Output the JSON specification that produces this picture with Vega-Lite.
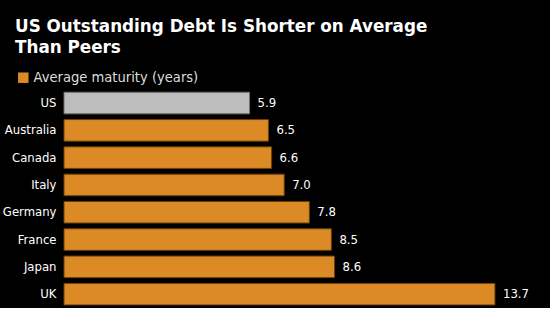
{
  "$schema": "https://vega.github.io/schema/vega-lite/v6.json",
  "width": 486,
  "height": 218.4,
  "autosize": {"type": "none"},
  "padding": {"left": 64, "top": 89.4, "right": 0, "bottom": 0},
  "background": "#000000",
  "title": {
    "text": ["US Outstanding Debt Is Shorter on Average", "Than Peers"],
    "anchor": "start",
    "frame": "group",
    "dx": -49,
    "font": "DejaVu Sans",
    "fontSize": 16.8,
    "fontWeight": "bold",
    "color": "#ffffff",
    "lineHeight": 21,
    "offset": 14
  },
  "data": {
    "values": [
      {"country": "US", "value": 5.9, "series": "Average maturity (years)"},
      {"country": "Australia", "value": 6.5, "series": "Average maturity (years)"},
      {"country": "Canada", "value": 6.6, "series": "Average maturity (years)"},
      {"country": "Italy", "value": 7.0, "series": "Average maturity (years)"},
      {"country": "Germany", "value": 7.8, "series": "Average maturity (years)"},
      {"country": "France", "value": 8.5, "series": "Average maturity (years)"},
      {"country": "Japan", "value": 8.6, "series": "Average maturity (years)"},
      {"country": "UK", "value": 13.7, "series": "Average maturity (years)"}
    ]
  },
  "encoding": {
    "y": {
      "field": "country",
      "type": "nominal",
      "sort": null,
      "scale": {"paddingInner": 0.21, "paddingOuter": 0.105},
      "axis": {
        "title": null,
        "domain": false,
        "ticks": false,
        "labelPadding": 8,
        "labelFont": "DejaVu Sans Condensed",
        "labelFontSize": 13,
        "labelColor": "#ffffff"
      }
    },
    "x": {
      "field": "value",
      "type": "quantitative",
      "scale": {"domain": [0, 15.45], "nice": false},
      "axis": null
    }
  },
  "layer": [
    {
      "mark": {"type": "bar", "strokeWidth": 1},
      "encoding": {
        "color": {
          "condition": {"test": "datum.country === 'US'", "value": "#bdbdbd"},
          "field": "series",
          "type": "nominal",
          "scale": {"range": ["#dc8a26"]},
          "legend": {
            "title": null,
            "orient": "none",
            "legendX": -48,
            "legendY": -19,
            "symbolType": "square",
            "symbolSize": 110,
            "symbolStrokeWidth": 0,
            "labelFont": "DejaVu Sans Condensed",
            "labelFontSize": 14.6,
            "labelColor": "#dddddd",
            "labelOffset": 3,
            "labelLimit": 400
          }
        },
        "stroke": {
          "condition": {"test": "datum.country === 'US'", "value": "#6e6e6e"},
          "value": "#6b3e0a"
        }
      }
    },
    {
      "mark": {"type": "text", "align": "left", "baseline": "middle", "dx": 8, "font": "DejaVu Sans Condensed", "fontSize": 13, "color": "#ffffff"},
      "encoding": {
        "text": {"field": "value", "type": "quantitative", "format": ".1f"}
      }
    }
  ],
  "config": {"view": {"stroke": null}}
}
